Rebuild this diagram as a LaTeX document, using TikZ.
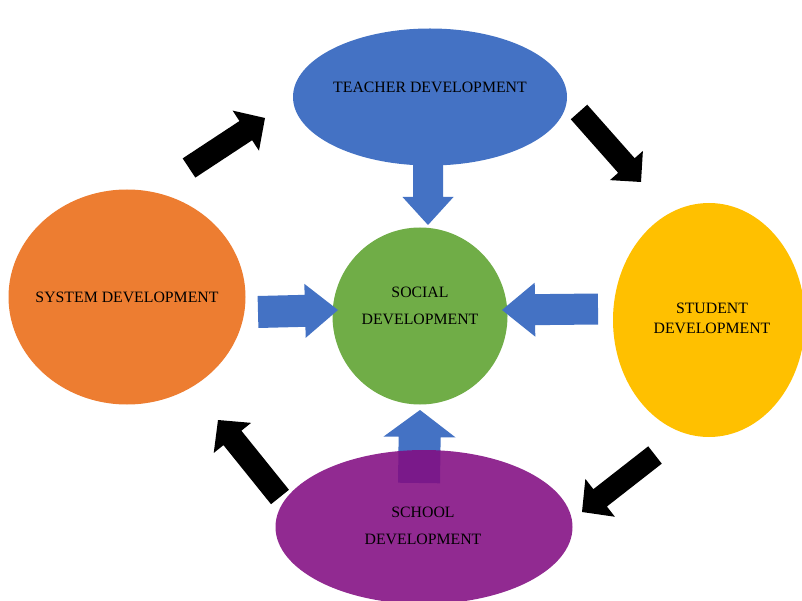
\documentclass[tikz,border=0pt]{standalone}
\usepackage{fontspec}
\setmainfont{Liberation Serif}
\usetikzlibrary{shapes.geometric,calc}

\definecolor{teacherblue}{RGB}{68,114,196}
\definecolor{systemorange}{RGB}{237,125,49}
\definecolor{socialgreen}{RGB}{112,173,71}
\definecolor{studentgold}{RGB}{255,192,0}
\definecolor{schoolpurple}{RGB}{130,13,130}

% block arrow: #1 style, #2 tail, #3 tip, #4 shaft half width, #5 head half width, #6 head length
\newcommand{\blockarrow}[6]{%
  \coordinate (#2-#3-base) at ($(#3)!#6!(#2)$);
  \fill[#1] ($(#2)!#4!-90:(#3)$) -- ($(#2-#3-base)!#4!-90:(#3)$)
    -- ($(#2-#3-base)!#5!-90:(#3)$) -- (#3)
    -- ($(#2-#3-base)!#5!90:(#3)$) -- ($(#2-#3-base)!#4!90:(#3)$)
    -- ($(#2)!#4!90:(#3)$) -- cycle;
}

\tikzset{
  blob/.style={ellipse, inner sep=0pt, draw=none},
  label/.style={inner sep=0pt, align=center, font=\fontsize{15.8}{19}\selectfont, text=black},
  darkarrow/.style={fill=black},
  bluearrow/.style={fill=teacherblue},
}

\begin{document}
\begin{tikzpicture}[x=1pt,y=-1pt]
\useasboundingbox (0,0) rectangle (802,601);
\fill[white] (0,0) rectangle (802,601);

% cycle of black arrows between the outer ellipses
\coordinate (c1t) at (189,168); \coordinate (c1h) at (265,118);
\coordinate (c2t) at (579,112); \coordinate (c2h) at (641,182);
\coordinate (c3t) at (655,455); \coordinate (c3h) at (582,512);
\coordinate (c4t) at (280,497); \coordinate (c4h) at (218,420);
\blockarrow{darkarrow}{c1t}{c1h}{11.5pt}{24pt}{23pt}
\blockarrow{darkarrow}{c2t}{c2h}{11pt}{22pt}{22pt}
\blockarrow{darkarrow}{c3t}{c3h}{11pt}{24pt}{23pt}
\blockarrow{darkarrow}{c4t}{c4h}{11.5pt}{24pt}{23pt}

% development areas
\node[blob, fill=teacherblue, minimum width=274pt, minimum height=137pt] (teacher) at (430,97) {};
\node[blob, fill=systemorange, minimum width=237pt, minimum height=215pt] (system) at (127,297) {};
\node[blob, fill=socialgreen, minimum width=175pt, minimum height=177pt] (social) at (420,316) {};
\node[blob, fill=studentgold, minimum width=192pt, minimum height=234pt] (student) at (709,320) {};

% upward arrow, partly seen through the school ellipse
\coordinate (b4t) at (419,483); \coordinate (b4h) at (420,410);
\blockarrow{bluearrow}{b4t}{b4h}{21pt}{36pt}{27pt}
\node[blob, fill=schoolpurple, fill opacity=0.88, minimum width=297pt, minimum height=154pt] (school) at (424,527) {};

% blue arrows into the social development circle
\coordinate (b1t) at (428,160); \coordinate (b1h) at (428,225);
\coordinate (b2t) at (258,312); \coordinate (b2h) at (338,310);
\coordinate (b3t) at (598,309); \coordinate (b3h) at (502,310);
\blockarrow{bluearrow}{b1t}{b1h}{15pt}{25.5pt}{28pt}
\blockarrow{bluearrow}{b2t}{b2h}{16pt}{27pt}{33pt}
\blockarrow{bluearrow}{b3t}{b3h}{15.5pt}{27pt}{33pt}

% texts
\node[label] (teachertext) at (430,87) {TEACHER DEVELOPMENT};
\node[label] (systemtext) at (127,297) {SYSTEM DEVELOPMENT};
\node[label] (socialtext) at (420,306) {SOCIAL\\[8pt]DEVELOPMENT};
\node[label] (studenttext) at (712,318) {STUDENT\\[1pt]DEVELOPMENT};
\node[label] (schooltext) at (423,526) {SCHOOL\\[8pt]DEVELOPMENT};
\end{tikzpicture}
\end{document}
